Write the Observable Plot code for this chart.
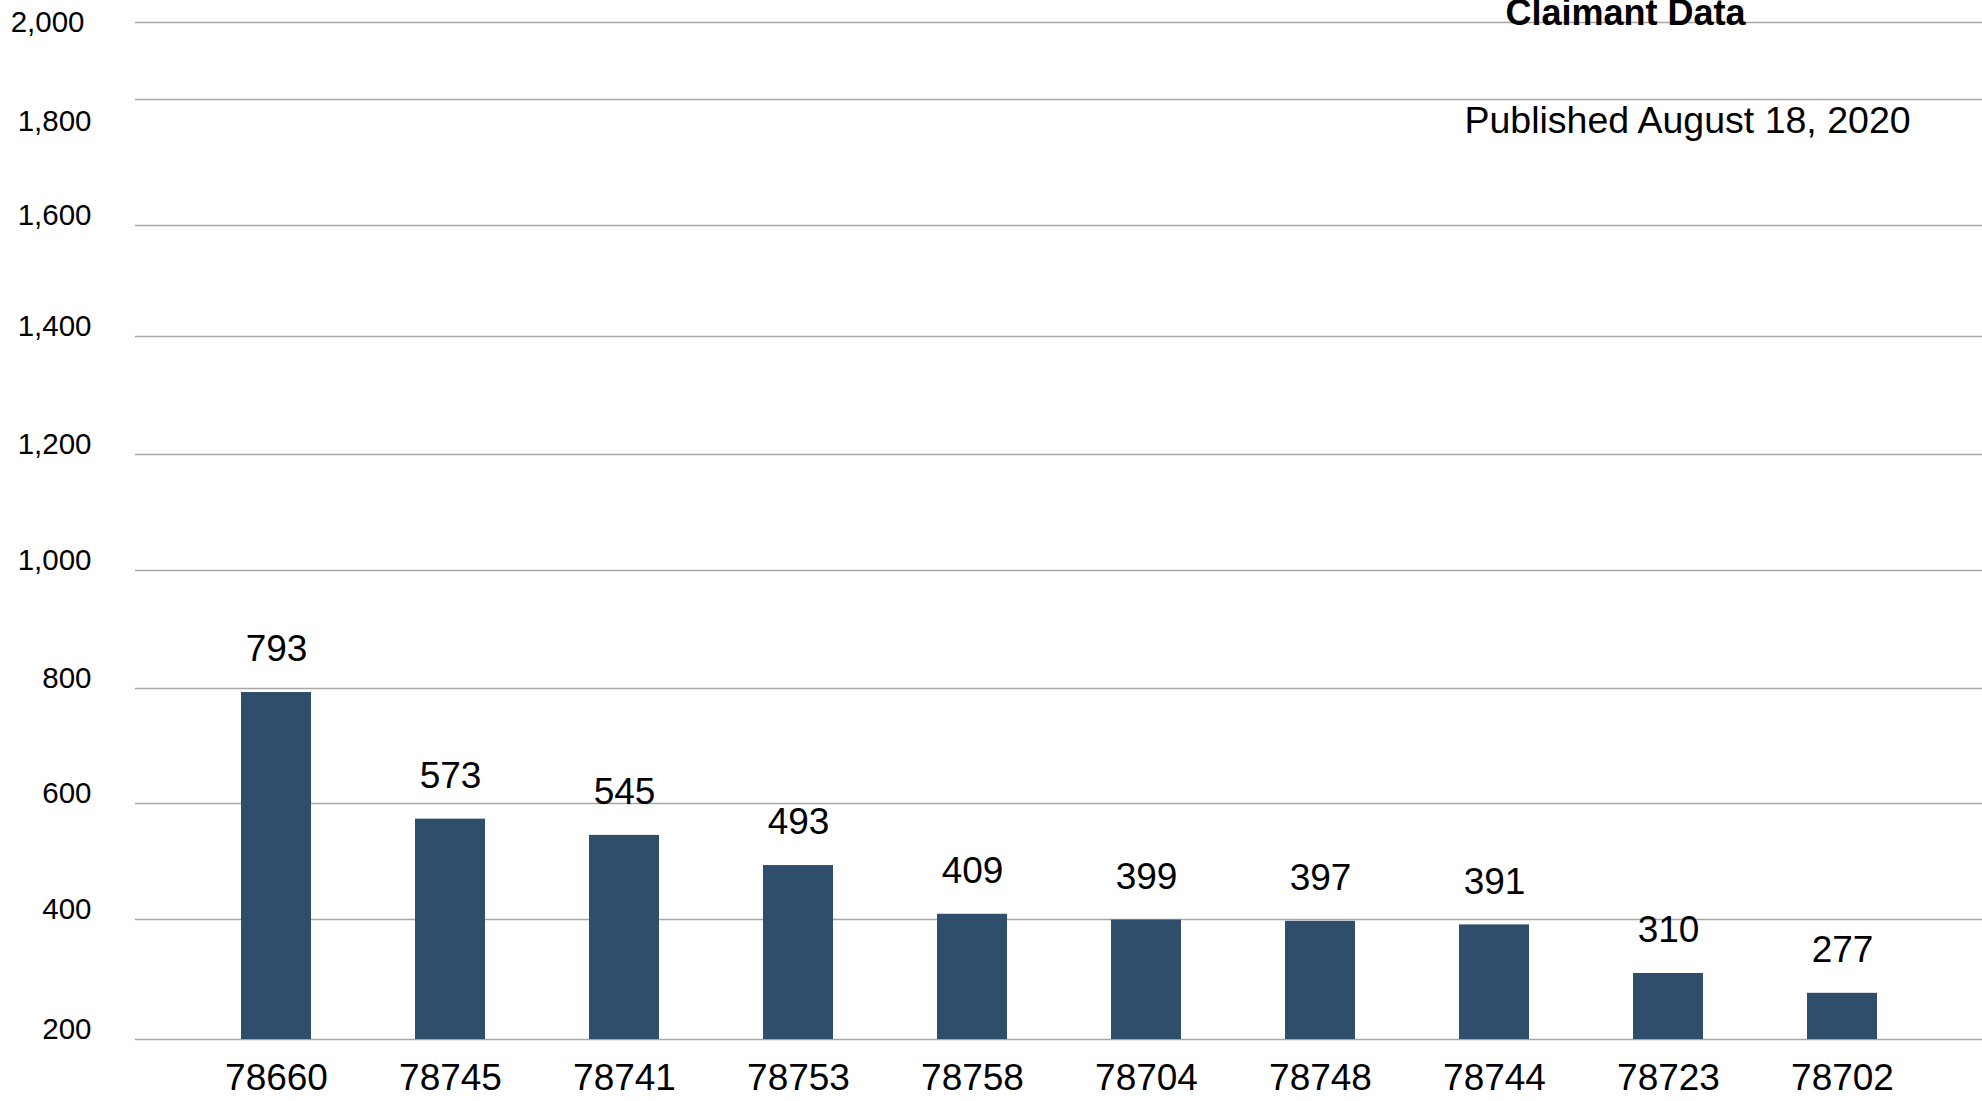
<!DOCTYPE html>
<html><head><meta charset="utf-8">
<script src="https://cdn.jsdelivr.net/npm/d3@7"></script>
<script src="https://cdn.jsdelivr.net/npm/@observablehq/plot@0.6"></script>
<style>html,body{margin:0;padding:0;background:#fff;} svg{display:block}</style>
</head><body><div id="chart"></div>
<script>
const zipCodes = ["78660","78745","78741","78753","78758","78704","78748","78744","78723","78702"];
const claimants = [793,573,545,493,409,399,397,391,310,277];
const yTicks = [200,400,600,800,1000,1200,1400,1600,1800,2000];
const title = "Claimant Data";
const subtitle = "Published August 18, 2020";

const data = zipCodes.map((zip, i) => ({zip, value: claimants[i]}));
const font = '"Liberation Sans", Arial, Helvetica, sans-serif';
const fmt = d3.format(",");
const tickLow = yTicks.filter(d => d <= 1600);
const tickMid = yTicks.filter(d => d === 1800);
const tickTop = yTicks.filter(d => d === 2000);

const chart = Plot.plot({
  width: 1982, height: 1101,
  marginLeft: 135, marginRight: 0, marginTop: 22, marginBottom: 62,
  style: {fontFamily: font, background: "#fff", color: "#000", overflow: "hidden"},
  x: {type: "band", domain: zipCodes, padding: 0.6, label: null},
  y: {type: "linear", domain: yTicks, range: [1039, 919, 803, 688, 570, 454, 336, 225, 99, 22], label: null},
  marks: [
    Plot.gridY(yTicks, {stroke: "#a6a6a6", strokeOpacity: 1, strokeWidth: 1.6}),
    Plot.barY(data, {x: "zip", y1: yTicks[0], y2: "value", fill: "#2e4e6b"}),
    Plot.text(data, {x: "zip", y: "value", text: d => String(d.value), dy: -43, fontSize: 37, fill: "#000"}),
    Plot.axisY(tickLow, {tickSize: 0, tickPadding: 44, tickFormat: fmt, fontSize: 29.5, dy: -10}),
    Plot.axisY(tickMid, {tickSize: 0, tickPadding: 44, tickFormat: fmt, fontSize: 29.5, dy: 22}),
    Plot.axisY(tickTop, {tickSize: 0, tickPadding: 51, tickFormat: fmt, fontSize: 29.5, dy: 0}),
    Plot.axisX({tickSize: 0, tickPadding: 24, fontSize: 37}),
    Plot.text([title], {frameAnchor: "top-right", dx: -357, dy: -23, textAnchor: "middle", fontSize: 36, fontWeight: "bold", fill: "#000"}),
    Plot.text([subtitle], {frameAnchor: "top-right", dx: -295, dy: 84, textAnchor: "middle", fontSize: 37.5, fill: "#000"})
  ]
});
document.getElementById("chart").appendChild(chart);
</script>
</body></html>
